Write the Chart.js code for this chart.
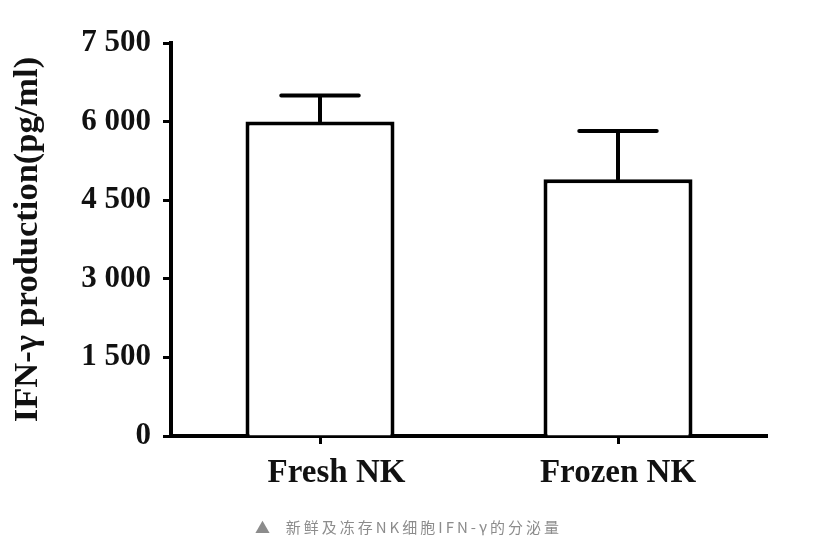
<!DOCTYPE html>
<html>
<head>
<meta charset="utf-8">
<script src="https://cdn.jsdelivr.net/npm/chart.js@4.4.0/dist/chart.umd.min.js"></script>
<style>
  body { margin: 0; background: #fff; }
  #wrap { position: relative; width: 817px; height: 550px; }
  #caption {
    position: absolute; left: 255px; top: 516px;
    font: 15px "Noto Sans CJK SC", sans-serif; color: #8c8c8c; letter-spacing: 3px;
    white-space: nowrap;
  }
</style>
</head>
<body>
<div id="wrap">
  <canvas id="chart" width="817" height="550"></canvas>
  <div id="caption">▲&nbsp;&nbsp;新鲜及冻存NK细胞IFN-γ的分泌量</div>
</div>
<script>
const groups = ['Fresh NK', 'Frozen NK'];
const means = [6000, 4900];
const errors = [500, 920];   // upper error bar (SD)
const yTicks = [0, 1500, 3000, 4500, 6000, 7500];

const serif = '"Liberation Serif", "Times New Roman", serif';

// space as thousands separator, e.g. "7 500"
function fmt(v) {
  return String(v).replace(/\B(?=(\d{3})+(?!\d))/g, ' ');
}

// draws the upper error bar (stem + cap) on each bar
const errorBars = {
  id: 'errorBars',
  afterDatasetsDraw(chart) {
    const { ctx } = chart;
    const yScale = chart.scales.y;
    const meta = chart.getDatasetMeta(0);
    ctx.save();
    ctx.strokeStyle = '#000';
    ctx.lineWidth = 4;
    ctx.lineCap = 'round';
    meta.data.forEach((bar, i) => {
      const x = bar.x;
      const yTop = yScale.getPixelForValue(means[i] + errors[i]);
      const yBar = yScale.getPixelForValue(means[i]);
      const half = bar.width * 0.26;
      ctx.beginPath();
      ctx.moveTo(x, yBar);
      ctx.lineTo(x, yTop);
      ctx.moveTo(x - half, yTop);
      ctx.lineTo(x + half, yTop);
      ctx.stroke();
    });
    ctx.restore();
  }
};

new Chart(document.getElementById('chart'), {
  type: 'bar',
  data: {
    labels: groups,
    datasets: [{
      data: means,
      backgroundColor: '#fff',
      borderColor: '#000',
      borderWidth: 4,
      borderSkipped: 'bottom',
      barPercentage: 0.5,
      categoryPercentage: 1
    }]
  },
  options: {
    responsive: false,
    animation: false,
    layout: { padding: { left: 0, right: 50, top: 43, bottom: 0 } },
    plugins: { legend: { display: false }, tooltip: { enabled: false } },
    scales: {
      x: {
        offset: true,
        grid: {
          offset: false,
          drawOnChartArea: false,
          drawTicks: true,
          tickLength: 8,
          tickWidth: 3,
          tickColor: '#000'
        },
        border: { display: true, color: '#000', width: 4 },
        ticks: {
          color: '#111',
          padding: 10,
          font: { family: serif, size: 33, weight: 'bold' },
          // the first label sits a little right of its tick in the original
          callback(v, i) { return i === 0 ? '\u2002\u2002' + groups[i] : groups[i]; }
        },
        afterFit(s) { s.height = 114; }
      },
      y: {
        min: 0,
        max: 7500,
        afterBuildTicks(s) { s.ticks = yTicks.map(v => ({ value: v })); },
        grid: {
          drawOnChartArea: false,
          drawTicks: true,
          tickLength: 8,
          tickWidth: 3,
          tickColor: '#000'
        },
        border: { display: true, color: '#000', width: 4 },
        ticks: {
          color: '#111',
          padding: 12,
          font: { family: serif, size: 31, weight: 'bold' },
          callback: v => fmt(v)
        },
        title: {
          display: true,
          text: 'IFN-γ production(pg/ml)',
          color: '#111',
          padding: { top: 7, bottom: 0 },
          font: { family: serif, size: 34.5, weight: 'bold' }
        },
        afterFit(s) { s.width = 171; }
      }
    }
  },
  plugins: [errorBars]
});
</script>
</body>
</html>
